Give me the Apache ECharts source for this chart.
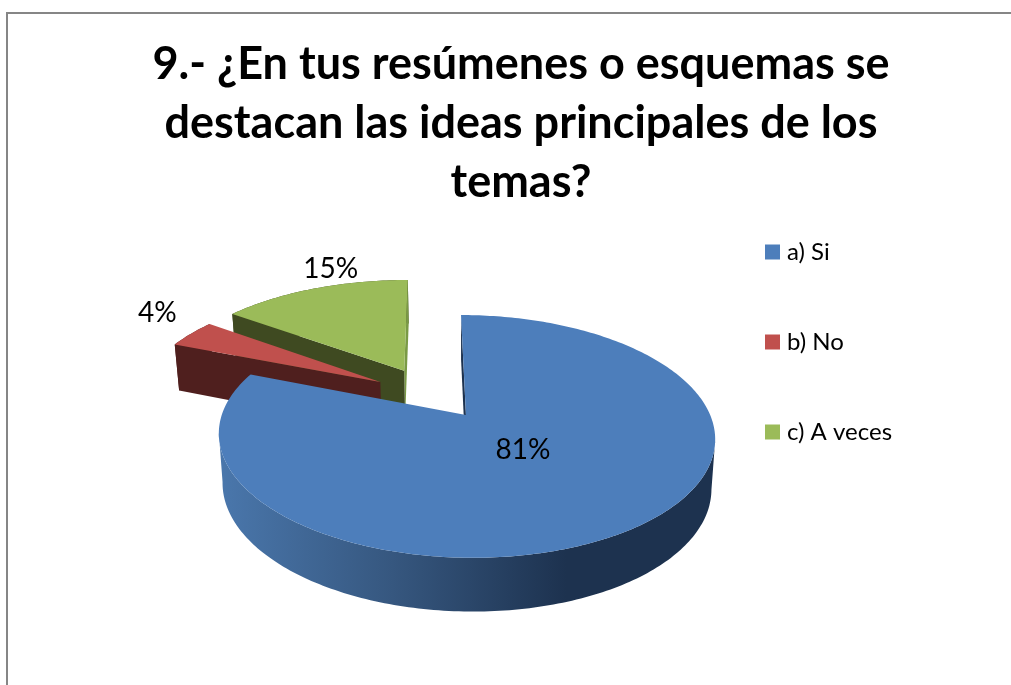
<!DOCTYPE html>
<html>
<head>
<meta charset="utf-8">
<style>html,body{margin:0;padding:0;background:#fff}#c{width:1011px;height:685px}</style>
<script src="https://cdn.jsdelivr.net/npm/echarts@6/dist/echarts.min.js"></script>
</head>
<body>
<div id="c"></div>
<script>
const chartTitle = '9.- ¿En tus resúmenes o esquemas se\ndestacan las ideas principales de los\ntemas?';
const categories = ['a) Si', 'b) No', 'c) A veces'];
const values = [81, 4, 15];

// Perspective model of the tilted pie (a plane projected to the screen)
const P = {x0: 433, y0: 392.5, R: 236, S: 109.8, k: 0.17, explode: 0.24, depth: 48, xc: 467, shrink: 0.985};
const looks = [
  {top: '#4d7ebb', radius: 1, nudge: [0, 0], labelR: 0.41, labelShift: [-5, -7], radialWalls: [[0, '#1d324f']],
   wall: {type: 'linear', x: 0, y: 0, x2: 1, y2: 0, colorStops: [
     {offset: 0, color: '#4a77ac'}, {offset: 0.35, color: '#36577f'},
     {offset: 0.7, color: '#1d324f'}, {offset: 1, color: '#1d324f'}]}},
  {top: '#c0504d', wall: '#4f1f1e', radius: 1.03, nudge: [-4, 2], labelR: 1.1, labelShift: [-22, -18], radialWalls: [[0, '#4f1f1e']]},
  {top: '#9bbb59', wall: '#3f4a21', radius: 1.04, nudge: [-4, 1], labelR: 1.1, labelShift: [21, -16], radialWalls: [[1, '#7a9a45'], [0, '#3f4a21']]}
];

function project(u, v, nudge) {
  const w = 1 - P.k * v;
  return [P.x0 + P.R * u / w + nudge[0], P.y0 + P.S * v / w + nudge[1], w];
}
function lower(p) {
  return [P.xc + (p[0] - P.xc) * P.shrink, p[1] + P.depth / Math.sqrt(p[2])];
}
const sum = values.reduce((a, b) => a + b, 0);

function render(index) {
  return function (params, api) {
    const value = api.value(0);
    let before = 0;
    for (let i = 0; i < index; i++) before += values[i];
    const a0 = before / sum * 2 * Math.PI;
    const a1 = (before + value) / sum * 2 * Math.PI;
    const mid = (a0 + a1) / 2;
    const look = looks[index];
    const cu = Math.sin(mid) * P.explode, cv = -Math.cos(mid) * P.explode;
    const apex = project(cu, cv, look.nudge);
    const rimPoint = a => project(cu + look.radius * Math.sin(a), cv - look.radius * Math.cos(a), look.nudge);
    const rim = [];
    const steps = Math.max(8, Math.round((a1 - a0) / Math.PI * 180));
    for (let i = 0; i <= steps; i++) rim.push(rimPoint(a0 + (a1 - a0) * i / steps));
    // The outer wall only needs the front of the rim, between its widest points
    let iMax = 0, iMin = 0;
    rim.forEach((p, i) => { if (p[0] > rim[iMax][0]) iMax = i; if (p[0] < rim[iMin][0]) iMin = i; });
    const front = iMax < iMin ? rim.slice(iMax, iMin + 1) : rim;
    const children = [];
    children.push({type: 'polygon',
      shape: {points: front.map(p => [p[0], p[1]]).concat(front.map(lower).reverse())},
      style: {fill: look.wall}});
    look.radialWalls.forEach(w => {
      const r = w[0] === 0 ? rim[0] : rim[rim.length - 1];
      children.push({type: 'polygon',
        shape: {points: [[r[0], r[1]], [apex[0], apex[1]], lower(apex), lower(r)]},
        style: {fill: w[1]}});
    });
    children.push({type: 'polygon', shape: {points: [[apex[0], apex[1]]].concat(rim.map(p => [p[0], p[1]]))},
      style: {fill: look.top}});
    const lp = project(cu + look.labelR * Math.sin(mid), cv - look.labelR * Math.cos(mid), look.nudge);
    children.push({type: 'text', style: {
      text: value + '%', x: lp[0] + look.labelShift[0], y: lp[1] + look.labelShift[1],
      align: 'center', verticalAlign: 'middle', fill: '#000',
      font: '28px Lato'}});
    return {type: 'group', children};
  };
}

const drawOrder = [2, 1, 0];
const option = {
  animation: false,
  backgroundColor: '#fff',
  title: {
    text: chartTitle, left: 516, top: 30, textAlign: 'center',
    textStyle: {fontFamily: 'Lato', fontWeight: 'bold', fontSize: 45, lineHeight: 59, color: '#000'}
  },
  legend: {
    orient: 'vertical', left: 760, top: 235, itemWidth: 15, itemHeight: 15, itemGap: 66,
    icon: 'rect', data: categories,
    textStyle: {fontFamily: 'Lato', fontSize: 24, color: '#000', padding: [0, 0, 0, 2]}
  },
  graphic: [{type: 'polyline', shape: {points: [[7, 685], [7, 13], [1011, 13]]},
    style: {stroke: '#868686', lineWidth: 2, fill: null}}],
  series: drawOrder.map(i => ({
    type: 'custom', name: categories[i], coordinateSystem: 'none',
    itemStyle: {color: looks[i].top},
    renderItem: render(i), data: [[values[i]]], silent: true
  }))
};
echarts.init(document.getElementById('c'), null, {renderer: 'canvas'}).setOption(option);
</script>
</body>
</html>
